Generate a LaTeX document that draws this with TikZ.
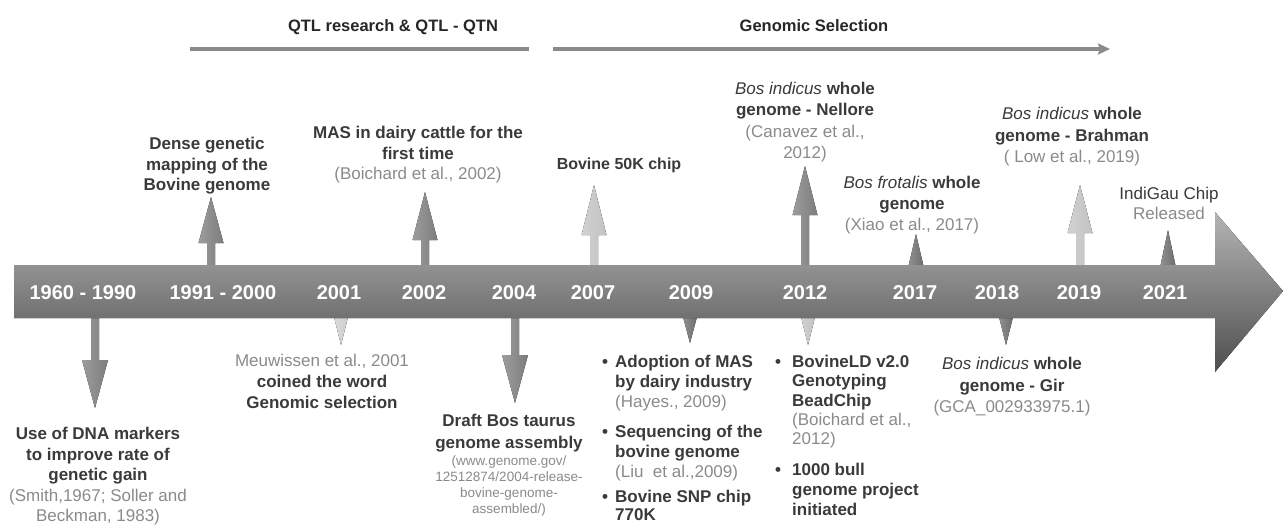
\documentclass[tikz,border=0pt]{standalone}
\usepackage{fontspec}
\setmainfont{Liberation Sans}
\usetikzlibrary{arrows.meta}

\definecolor{bandtop}{HTML}{B4B4B4}
\definecolor{bandbot}{HTML}{4E4E4E}
\definecolor{inkdark}{HTML}{3A3A3A}
\definecolor{inktitle}{HTML}{262626}
\definecolor{inkgray}{HTML}{8A8A8A}
\definecolor{arrmid}{HTML}{7C7C7C}
\definecolor{arrdark}{HTML}{6C6C6C}
\definecolor{arrlight}{HTML}{C2C2C2}
\definecolor{arrpale}{HTML}{CDCDCD}
\definecolor{spanline}{HTML}{8A8A8A}

% gray citation text and italic species names inside bold labels
\newcommand\evcite[1]{{\mdseries\color{inkgray}#1}}
\newcommand\evsp[1]{{\mdseries\itshape #1}}

% event pointers: x, tip y, head base y, fill
\newcommand\evup[4]{\fill[left color=#4!75!white,right color=#4] (#1-4,268) -- (#1-4,#3) -- (#1-12.5,#3) -- (#1,#2) -- (#1+12.5,#3) -- (#1+4,#3) -- (#1+4,268) -- cycle;}
\newcommand\evdown[4]{\fill[left color=#4!75!white,right color=#4] (#1-4,315) -- (#1-4,#3) -- (#1-13,#3) -- (#1,#2) -- (#1+13,#3) -- (#1+4,#3) -- (#1+4,315) -- cycle;}
\newcommand\evtriup[3]{\fill[left color=#3!75!white,right color=#3] (#1-8,268) -- (#1,#2) -- (#1+8,268) -- cycle;}
\newcommand\evtridown[3]{\fill[left color=#3!75!white,right color=#3] (#1-7.5,315) -- (#1,#2) -- (#1+7.5,315) -- cycle;}

\tikzset{
  lbl/.style={font=\bfseries\fontsize{17}{20.5}\selectfont, text=inkdark, align=center, inner sep=0pt, anchor=north},
  listitem/.style={font=\bfseries\fontsize{17}{19.8}\selectfont, text=inkdark, align=left, inner sep=0pt, anchor=north west},
  bulletmark/.style={font=\bfseries\fontsize{17}{20}\selectfont, text=inkdark, inner sep=0pt, anchor=base},
  smallref/.style={font=\fontsize{13.5}{15.7}\selectfont, text=inkgray, align=center, inner sep=0pt, anchor=north},
  yr/.style={font=\bfseries\fontsize{20}{24}\selectfont, text=white, inner sep=0pt, anchor=base},
  ttl/.style={font=\bfseries\fontsize{16.5}{20}\selectfont, text=inktitle, inner sep=0pt, anchor=base},
  spanbar/.style={draw=spanline, line width=3.5pt},
}

\begin{document}
\begin{tikzpicture}[x=1pt,y=-1pt]
\useasboundingbox (0,0) rectangle (1283,525);

% era headings and their spans
\node[ttl] (qtl) at (393,31) {QTL research \& QTL - QTN};
\node[ttl] (gsel) at (814,31) {Genomic Selection};
\coordinate (qtlA) at (190,49);
\coordinate (qtlB) at (529,49);
\coordinate (gselA) at (553,49);
\coordinate (gselB) at (1110,49);
\draw[spanbar] (qtlA) -- (qtlB);
\draw[spanbar, -{Stealth[length=12pt,width=11pt,inset=2pt]}] (gselA) -- (gselB);

% pointers above the band
\evup{211}{197}{243}{arrmid}
\evup{425}{192}{240}{arrmid}
\evup{594}{185}{235}{arrlight}
\evup{805}{166}{215}{arrmid}
\evtriup{916}{234}{arrdark}
\evup{1080}{185}{233}{arrlight}
\evtriup{1168}{230}{arrdark}

% pointers below the band
\evdown{95}{408}{360}{arrmid}
\evtridown{341}{345}{arrpale}
\evdown{515}{403}{355}{arrmid}
\evtridown{690}{343}{arrdark}
\evtridown{808}{345}{arrlight}
\evtridown{1006}{345}{arrdark}

% the time band
\fill[top color=bandtop, bottom color=bandbot]
  (14,265) -- (1215,265) -- (1215,212) -- (1283,291) -- (1215,372) -- (1215,318) -- (14,318) -- cycle;

% years
\node[yr] (y1960) at (83,299) {1960 - 1990};
\node[yr] (y1991) at (223,299) {1991 - 2000};
\node[yr] (y2001) at (339,299) {2001};
\node[yr] (y2002) at (424,299) {2002};
\node[yr] (y2004) at (514,299) {2004};
\node[yr] (y2007) at (593,299) {2007};
\node[yr] (y2009) at (691,299) {2009};
\node[yr] (y2012) at (805,299) {2012};
\node[yr] (y2017) at (915,299) {2017};
\node[yr] (y2018) at (997,299) {2018};
\node[yr] (y2019) at (1079,299) {2019};
\node[yr] (y2021) at (1165,299) {2021};

% events above
\node[lbl] (dense) at (207,137) {Dense genetic\\mapping of the\\Bovine genome};
\node[lbl] (mas) at (418,126) {MAS in dairy cattle for the\\first time\\\evcite{(Boichard et al., 2002)}};
\node[lbl, anchor=base, font=\bfseries\fontsize{16}{20}\selectfont] (chip50) at (619,169) {Bovine 50K chip};
\node[lbl, font=\bfseries\fontsize{17}{21.3}\selectfont] (nellore) at (805,82) {\evsp{Bos indicus} whole\\genome - Nellore\\\evcite{(Canavez et al.,}\\\evcite{2012)}};
\node[lbl, font=\bfseries\fontsize{17}{21}\selectfont] (frotalis) at (912,176) {\evsp{Bos frotalis} whole\\genome\\\evcite{(Xiao et al., 2017)}};
\node[lbl, font=\bfseries\fontsize{17}{21.5}\selectfont] (brahman) at (1072,107) {\evsp{Bos indicus} whole\\genome - Brahman\\\evcite{( Low et al., 2019)}};
\node[lbl, font=\mdseries\fontsize{17}{20}\selectfont] (indigau) at (1169,187) {IndiGau Chip\\\evcite{Released}};

% events below
\node[lbl] (dna) at (98,427) {Use of DNA markers\\to improve rate of\\genetic gain\\\evcite{(Smith,1967; Soller and}\\\evcite{Beckman, 1983)}};
\node[lbl, font=\bfseries\fontsize{17}{21}\selectfont] (meuwissen) at (322,354) {\evcite{Meuwissen et al., 2001}\\coined the word\\Genomic selection};
\node[lbl, font=\bfseries\fontsize{17}{22}\selectfont] (draft) at (509,414) {Draft Bos taurus\\genome assembly};
\node[smallref] (draftref) at (509,456) {(www.genome.gov/\\12512874/2004-release-\\bovine-genome-\\assembled/)};
\node[lbl, font=\bfseries\fontsize{17}{21.5}\selectfont] (gir) at (1012,357) {\evsp{Bos indicus} whole\\genome - Gir\\\evcite{(GCA\_002933975.1)}};

% 2009 list
\node[bulletmark] (b1) at (605,367) {•};
\node[listitem] (mas09) at (615,355) {Adoption of MAS\\by dairy industry\\\evcite{(Hayes., 2009)}};
\node[bulletmark] (b2) at (605,437) {•};
\node[listitem] (seq09) at (615,425) {Sequencing of the\\bovine genome\\\evcite{(Liu\ \ et al.,2009)}};
\node[bulletmark] (b3) at (605,502) {•};
\node[listitem, font=\bfseries\fontsize{17}{18}\selectfont] (snp09) at (615,490) {Bovine SNP chip\\770K};

% 2012 list
\node[bulletmark] (b4) at (778,367) {•};
\node[listitem, font=\bfseries\fontsize{17}{19.3}\selectfont] (ld12) at (792,355) {BovineLD v2.0\\Genotyping\\BeadChip\\\evcite{(Boichard et al.,}\\\evcite{2012)}};
\node[bulletmark] (b5) at (778,475) {•};
\node[listitem] (bull12) at (792,463) {1000 bull\\genome project\\initiated};
\end{tikzpicture}
\end{document}
